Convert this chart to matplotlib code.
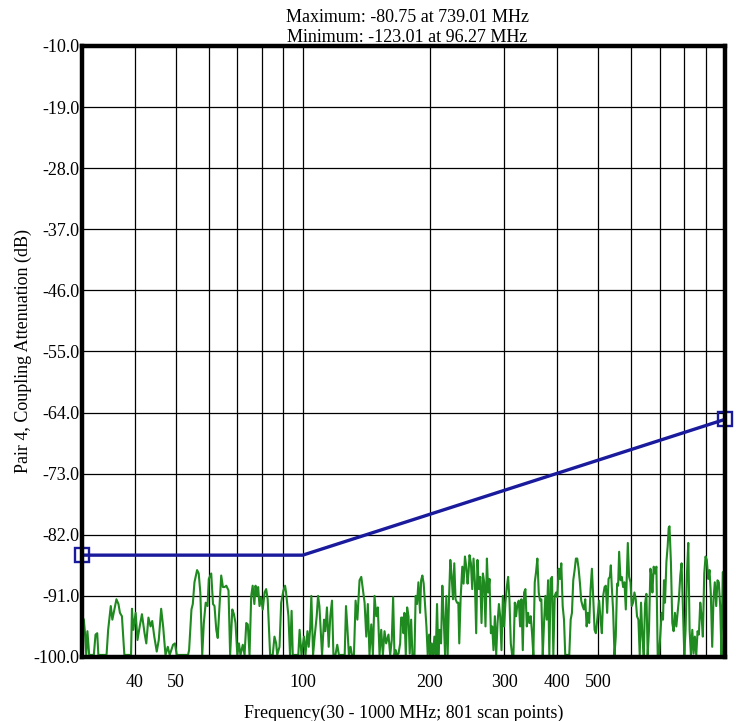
import matplotlib
matplotlib.use("Agg")
import matplotlib.pyplot as plt
from matplotlib.ticker import NullFormatter, FixedLocator
import numpy as np


plt.rcParams['font.family'] = ['Liberation Serif', 'DejaVu Serif']

# limit line (dB)
limit_freq = [30, 100, 1000]
limit_db = [-85.0, -85.0, -65.0]

freq_a = [30.0, 30.3, 30.5, 30.7, 30.9, 31.2, 32.0, 32.3, 32.6, 32.8,
          34.3, 34.6, 35.1, 35.4, 35.8, 36.2, 36.6, 36.9, 37.3, 37.8,
          39.2, 39.4, 39.7, 40.2, 40.6, 41.1, 41.6, 42.2, 42.6, 43.1,
          43.6, 44.0, 44.5, 45.1, 45.6, 46.2, 46.7, 47.3, 47.9, 48.4,
          49.3, 49.8, 50.3]
db_a = [-94.0, -94.5, -96.5, -99.7, -96.2, -99.7, -99.7, -96.7, -96.5, -99.7,
        -99.7, -96.0, -92.5, -94.5, -93.0, -91.5, -92.2, -93.5, -94.0, -99.7,
        -99.7, -92.9, -96.0, -93.5, -97.5, -95.5, -93.7, -96.5, -98.0, -94.2,
        -95.5, -94.7, -97.0, -99.2, -97.5, -92.9, -95.5, -99.7, -98.5, -99.7,
        -98.2, -98.0, -99.7]

freq_b = [53.5, 53.8, 54.5, 54.9, 55.4, 56.2, 56.7, 57.2, 57.8, 58.3,
          58.9, 59.5, 59.9, 60.7, 61.3, 61.8, 62.4, 62.9, 63.5, 64.1,
          64.7, 65.3, 65.9, 66.7, 67.3, 68.1, 68.7, 69.3, 70.0, 70.6,
          71.2, 72.1, 72.8, 73.5, 74.1, 74.8, 75.5, 76.1, 76.8, 77.3,
          77.8, 78.4, 79.0, 79.7, 80.4, 81.2, 81.9, 82.6, 83.7, 84.9,
          85.7, 86.5, 87.0, 88.1, 88.9]
db_b = [-99.7, -99.0, -93.0, -92.2, -89.0, -87.2, -87.7, -90.5, -99.7, -95.0,
        -92.0, -92.5, -88.5, -87.7, -92.2, -92.5, -96.0, -97.2, -92.5, -88.0,
        -89.7, -89.7, -89.5, -90.2, -99.7, -93.0, -93.7, -95.0, -99.7, -98.0,
        -99.7, -98.2, -99.7, -95.0, -95.2, -99.7, -91.0, -89.5, -92.2, -89.5,
        -91.0, -89.7, -92.5, -91.2, -93.0, -90.5, -90.0, -91.5, -99.7, -99.7,
        -97.0, -98.0, -99.7, -98.5, -92.0]

freq_c = [90.0, 90.8, 91.3, 92.5, 93.3, 94.1, 94.7, 96.27, 97.6, 98.3,
          99.3, 100.7, 101.5, 102.6, 103.3, 104.1, 104.8, 105.8, 106.7, 107.9,
          108.7, 109.5, 110.3, 111.1, 112.3, 113.1, 114.1, 115.2, 116.2, 117.3,
          118.2, 119.5, 120.7, 121.8, 125.7, 126.6, 127.5, 128.6, 129.8, 130.7,
          132.2, 133.4, 134.7, 136.3, 137.6, 138.8, 140.1, 141.4, 142.6, 143.9,
          145.3, 146.6, 147.9, 149.3, 150.6, 152.0, 153.4, 154.8, 156.2, 157.6]
db_c = [-90.2, -89.5, -90.5, -94.0, -99.7, -93.2, -99.7, -123.01, -99.7, -96.0,
        -99.7, -97.0, -99.7, -96.2, -98.5, -96.0, -91.0, -99.7, -97.0, -94.0,
        -91.0, -92.5, -96.0, -99.7, -94.5, -96.2, -92.7, -98.5, -94.0, -91.7,
        -99.7, -99.7, -98.2, -99.7, -99.7, -92.5, -95.5, -99.7, -98.5, -99.7,
        -99.7, -91.7, -94.5, -88.7, -88.2, -90.0, -92.0, -97.0, -92.2, -99.7,
        -95.2, -99.7, -91.0, -94.0, -92.7, -99.7, -96.0, -99.7, -96.2, -98.0]

freq_d = [159.6, 161.1, 162.5, 163.7, 164.9, 166.1, 167.0, 168.6, 170.1, 171.0,
          172.2, 173.2, 174.1, 175.4, 176.7, 178.0, 179.2, 180.6, 181.9, 183.9,
          185.1, 186.5, 187.9, 189.6, 190.7, 192.0, 193.4, 194.9, 196.3, 197.7,
          199.2, 200.6, 202.0, 203.6, 205.0, 206.5, 208.0, 209.5, 211.0, 212.6,
          214.1, 215.6, 217.3, 218.8, 220.4, 222.1, 223.6, 225.2, 226.9, 228.5,
          230.1, 231.9, 233.6, 234.8, 236.5, 238.7, 240.4, 242.2, 243.9, 245.7,
          247.0, 248.3, 250.2, 252.0, 253.8, 255.7, 257.5, 259.3, 261.3, 263.2,
          265.1, 267.1, 269.0, 270.9, 273.0, 275.0, 276.9, 279.0]
db_d = [-96.7, -99.7, -97.5, -91.2, -99.7, -99.0, -99.7, -99.5, -98.0, -94.2,
        -94.2, -96.5, -93.5, -99.7, -92.7, -94.0, -99.5, -94.5, -99.7, -99.7,
        -91.0, -92.2, -89.0, -93.5, -88.7, -88.0, -89.2, -92.5, -95.5, -99.7,
        -96.7, -99.7, -98.0, -99.7, -97.0, -99.7, -92.2, -99.7, -96.0, -98.0,
        -89.5, -94.0, -99.7, -91.0, -99.7, -91.2, -85.7, -88.0, -91.5, -86.2,
        -91.5, -92.0, -92.0, -98.0, -91.5, -86.7, -89.2, -85.2, -86.7, -89.2,
        -87.5, -85.0, -86.2, -90.0, -85.5, -89.0, -96.5, -85.7, -90.0, -88.2,
        -95.0, -87.7, -89.0, -95.5, -85.5, -90.5, -88.5, -96.5]

freq_e = [281.0, 283.0, 285.1, 287.2, 289.3, 291.5, 293.5, 295.6, 297.9, 299.9,
          302.0, 304.3, 306.5, 308.7, 311.0, 313.3, 315.5, 317.9, 320.1, 322.4,
          324.9, 327.2, 329.5, 332.0, 334.4, 336.8, 339.4, 341.7, 344.2, 346.7,
          349.2, 351.7, 354.4, 356.9, 359.5, 362.2, 364.8, 367.4, 370.2, 372.8,
          375.5, 378.4, 381.1, 383.7, 386.6, 389.4, 392.2, 395.2, 398.0, 400.8,
          403.8, 406.7, 409.6, 412.7, 415.7, 418.5, 424.8, 427.8, 431.1, 434.1,
          437.2, 440.5, 443.6, 446.8, 450.2, 453.3, 456.6, 460.1, 463.4, 466.7,
          470.3, 473.5, 476.9, 480.5, 484.0, 487.3, 491.1]
db_e = [-95.5, -99.0, -94.0, -99.7, -95.0, -92.2, -94.0, -99.0, -91.0, -95.5,
        -92.0, -89.7, -88.2, -91.5, -98.0, -99.7, -99.7, -92.0, -94.0, -92.2,
        -91.7, -95.5, -91.5, -99.0, -90.5, -90.0, -95.5, -93.5, -95.0, -94.0,
        -96.5, -99.7, -89.0, -87.5, -85.5, -90.5, -91.7, -91.5, -99.7, -95.0,
        -91.0, -94.5, -88.7, -99.7, -88.5, -88.2, -99.7, -91.0, -90.5, -91.2,
        -87.0, -88.5, -86.2, -92.5, -94.5, -99.7, -99.7, -99.7, -94.5, -93.5,
        -88.7, -87.2, -85.5, -85.5, -87.0, -89.0, -91.7, -92.5, -93.0, -91.5,
        -95.5, -93.5, -95.0, -90.0, -87.0, -91.0, -96.0]

freq_f = [494.6, 499.1, 503.5, 507.4, 511.0, 514.7, 518.6, 522.2, 526.0, 530.0,
          533.8, 536.6, 539.5, 543.4, 547.5, 551.3, 555.3, 558.4, 561.5, 565.8,
          569.7, 573.8, 578.1, 582.3, 585.4, 588.7, 592.9, 597.4, 601.5, 605.8,
          610.4, 614.8, 619.0, 623.7, 628.2, 632.7, 637.5, 642.1, 646.6, 651.5,
          656.1, 660.8, 665.9, 669.5, 673.2, 678.0, 682.9, 688.0, 692.9, 697.9,
          703.1, 708.2, 713.3, 717.1, 721.1, 726.6, 731.6, 735.7, 739.01, 744.7,
          750.4, 755.8, 761.2, 767.0, 772.3, 777.8, 783.8, 789.4, 795.0, 801.1,
          806.7, 812.5, 818.7, 824.6, 830.5, 836.8, 842.6, 848.6, 855.1, 861.2,
          867.4, 874.0, 880.1, 886.4, 893.2, 899.5, 905.7, 912.7, 919.2, 925.8,
          932.8, 939.3, 946.1, 953.3, 960.1, 967.0, 974.3, 981.1, 988.1, 995.7,
          1000.0]
db_f = [-96.5, -94.0, -91.7, -94.5, -96.5, -91.0, -89.7, -89.5, -93.5, -88.5,
        -88.2, -86.5, -89.7, -93.2, -99.7, -97.0, -89.2, -89.5, -84.5, -88.7,
        -88.2, -89.7, -89.0, -93.0, -88.2, -83.2, -88.2, -89.0, -92.5, -92.0,
        -90.5, -91.5, -94.0, -94.5, -99.7, -92.0, -97.0, -99.7, -92.2, -90.7,
        -99.7, -96.0, -87.0, -88.0, -90.5, -86.7, -87.7, -86.7, -99.7, -99.7,
        -96.5, -93.5, -94.5, -88.7, -92.0, -86.0, -83.7, -81.0, -80.75, -86.0,
        -95.0, -96.2, -93.5, -95.5, -93.5, -91.5, -88.0, -86.2, -92.5, -99.7,
        -96.0, -88.0, -83.2, -96.0, -99.7, -96.0, -99.5, -97.0, -99.7, -96.2,
        -96.7, -92.0, -94.0, -97.0, -87.7, -85.2, -85.7, -88.5, -87.2, -90.7,
        -98.5, -91.5, -89.0, -92.5, -88.7, -89.0, -92.5, -99.7, -87.5, -97.0,
        -96.5]

trace_freq = np.array(freq_a + freq_b + freq_c + freq_d + freq_e + freq_f)
trace_db = np.array(db_a + db_b + db_c + db_d + db_e + db_f)

x_labeled = [40, 50, 100, 200, 300, 400, 500]
x_grid_only = [60, 70, 80, 90, 600, 700, 800, 900]
y_ticks = [-100.0, -91.0, -82.0, -73.0, -64.0, -55.0, -46.0, -37.0, -28.0, -19.0, -10.0]

fig = plt.figure(figsize=(7.36, 7.21), dpi=100)
ax = fig.add_axes([0.1114, 0.0888, 0.8736, 0.8474])

# values below the floor are drawn on the floor
ax.plot(trace_freq, np.maximum(trace_db, -99.7), color='#1f8a1f', lw=1.5, zorder=3)
ax.plot(limit_freq, limit_db, color='#1a1a9c', lw=2.4, zorder=4,
        marker='s', markersize=10, markerfacecolor='none', markeredgewidth=1.7,
        markevery=[0, 2], clip_on=False)

ax.set_xscale('log')
ax.set_xlim(30, 1000)
ax.set_ylim(-100, -10)

ax.xaxis.set_major_locator(FixedLocator(x_labeled))
ax.xaxis.set_minor_locator(FixedLocator(x_grid_only))
ax.xaxis.set_minor_formatter(NullFormatter())
ax.set_xticklabels([str(v) for v in x_labeled])
ax.set_yticks(y_ticks)
ax.set_yticklabels(['%.1f' % v for v in y_ticks])

ax.grid(True, which='both', color='black', lw=0.9)
ax.tick_params(which='both', length=0, labelsize=13)
ax.tick_params(axis='x', pad=12)
ax.tick_params(axis='y', pad=2)

for sp in ax.spines.values():
    sp.set_linewidth(3.2)
    sp.set_zorder(5)

ax.set_xlabel('Frequency(30 - 1000 MHz; 801 scan points)', fontsize=13, labelpad=10)
ax.set_ylabel('Pair 4, Coupling Attenuation (dB)', fontsize=13, labelpad=1)

fig.text(0.553, 0.976, 'Maximum: -80.75 at 739.01 MHz', ha='center', va='center', fontsize=13)
fig.text(0.553, 0.948, 'Minimum: -123.01 at 96.27 MHz', ha='center', va='center', fontsize=13)

fig.savefig('out.png', dpi=100)
